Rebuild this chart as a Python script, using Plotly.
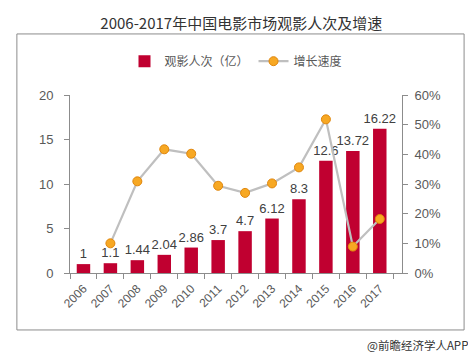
import plotly.graph_objects as go

years = ["2006", "2007", "2008", "2009", "2010", "2011", "2012", "2013", "2014", "2015", "2016", "2017"]
admissions = [1, 1.1, 1.44, 2.04, 2.86, 3.7, 4.7, 6.12, 8.3, 12.6, 13.72, 16.22]
growth_years = years[1:]
growth = [10.0, 30.9, 41.7, 40.2, 29.4, 27.0, 30.2, 35.6, 51.8, 8.9, 18.2]

FONT = "Liberation Sans, Arial, sans-serif"
CJK = "Noto Sans CJK SC, sans-serif"
AX = "#8c8c8c"
TXT = "#595959"

fig = go.Figure()
fig.add_trace(go.Bar(
    x=years, y=admissions, name="观影人次（亿）",
    marker=dict(color="#C00030", line=dict(width=0)),
    width=0.5,
    text=[f"{v:g}" for v in admissions], textposition="outside",
    textangle=0, constraintext="none",
    textfont=dict(family=FONT, size=13, color="#404040"),
    cliponaxis=False,
))
fig.add_trace(go.Scatter(
    x=growth_years, y=growth, name="增长速度", yaxis="y2",
    mode="lines+markers",
    line=dict(color="#BFBFBF", width=2.2),
    marker=dict(size=9, color="#F7A823", line=dict(color="#E0860C", width=1)),
    cliponaxis=False,
))

fig.update_layout(
    width=476, height=355,
    margin=dict(l=62, r=82, t=87, b=90),
    paper_bgcolor="white", plot_bgcolor="white",
    showlegend=True,
    legend=dict(orientation="h", x=0.5, xanchor="center", y=1.19, yanchor="middle",
                font=dict(family=CJK, size=12, color=TXT), itemwidth=30,
                bgcolor="rgba(0,0,0,0)"),
    title=dict(text="2006-2017年中国电影市场观影人次及增速", x=0.49, xanchor="center",
               y=0.957, yanchor="middle",
               font=dict(family=CJK, size=15, color="#333333")),
    xaxis=dict(type="category", showline=True, linecolor=AX, linewidth=1,
               ticks="outside", tickson="boundaries", ticklen=5, tickcolor=AX,
               tickangle=-45, tickfont=dict(family=FONT, size=12, color=TXT),
               ticklabelstandoff=3, showgrid=False, zeroline=False),
    yaxis=dict(range=[0, 20], dtick=5, showline=True, linecolor=AX, linewidth=1,
               ticks="outside", ticklen=5, tickcolor=AX, ticklabelstandoff=8,
               tickfont=dict(family=FONT, size=13, color=TXT),
               showgrid=False, zeroline=False),
    yaxis2=dict(range=[0, 60], dtick=10, ticksuffix="%", overlaying="y", side="right",
                showline=True, linecolor=AX, linewidth=1, ticks="outside", ticklen=5,
                tickcolor=AX, ticklabelstandoff=4, tickfont=dict(family=FONT, size=13, color=TXT),
                showgrid=False, zeroline=False),
    shapes=[dict(type="rect", xref="paper", yref="paper",
                 x0=-0.16, x1=1.187, y0=-0.32, y1=1.343,
                 line=dict(color="#8c8c8c", width=1), fillcolor="rgba(0,0,0,0)",
                 layer="below")],
    annotations=[dict(text="@前瞻经济学人APP", xref="paper", yref="paper",
                      x=1.205, y=-0.405, xanchor="right", yanchor="middle",
                      showarrow=False, font=dict(family=CJK, size=11.5, color="#333333"))],
)

fig.write_html("out.html")
